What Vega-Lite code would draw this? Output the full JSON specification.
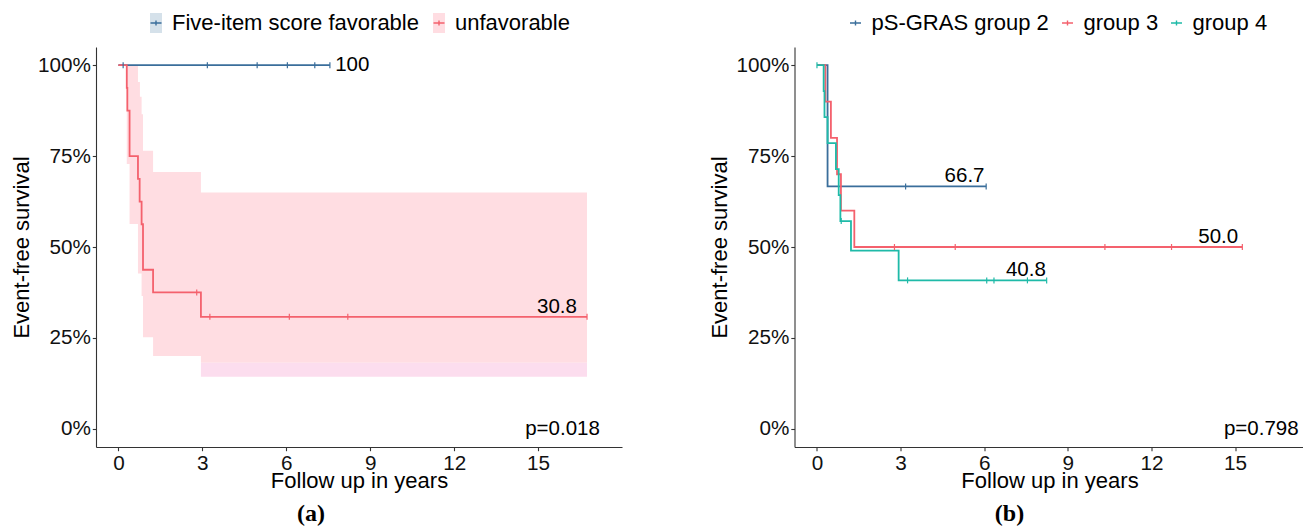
{
  "$schema": "https://vega.github.io/schema/vega-lite/v6.json",
  "background": "white",
  "padding": {"left": 10, "top": 12, "right": 0, "bottom": 0},
  "bounds": "flush",
  "spacing": 172.5,
  "resolve": {
    "scale": {"color": "independent", "fill": "independent", "stroke": "independent", "x": "independent", "y": "independent"},
    "legend": {"color": "independent", "fill": "independent", "stroke": "independent"}
  },
  "config": {
    "view": {"stroke": null},
    "font": "Liberation Sans",
    "axis": {
      "grid": false,
      "domainColor": "#333333",
      "tickColor": "#333333",
      "domainWidth": 1.1,
      "tickWidth": 1.1,
      "tickSize": 3.7,
      "labelFont": "Liberation Sans",
      "labelFontSize": 20.7,
      "labelColor": "#111111",
      "titleFont": "Liberation Sans",
      "titleFontSize": 22,
      "titleFontWeight": "normal",
      "titleColor": "#000000"
    },
    "axisX": {"labelPadding": 3, "titlePadding": -3, "labelFlush": false},
    "axisY": {"labelPadding": 2, "titlePadding": 4},
    "legend": {
      "title": null,
      "orient": "none",
      "direction": "horizontal",
      "padding": 0,
      "symbolSize": 121,
      "symbolStrokeWidth": 1.4,
      "labelFont": "Liberation Sans",
      "labelFontSize": 22,
      "labelColor": "#000000",
      "labelOffset": 5,
      "columnPadding": 7,
      "labelLimit": 400
    }
  },
  "datasets": {
    "kmA": [
      {"group": "Five-item score favorable", "t": 0, "s": 100},
      {"group": "Five-item score favorable", "t": 7.56, "s": 100},
      {"group": "unfavorable", "t": 0, "s": 100},
      {"group": "unfavorable", "t": 0.30, "s": 93.75},
      {"group": "unfavorable", "t": 0.32, "s": 87.5},
      {"group": "unfavorable", "t": 0.40, "s": 75},
      {"group": "unfavorable", "t": 0.70, "s": 68.75},
      {"group": "unfavorable", "t": 0.76, "s": 62.5},
      {"group": "unfavorable", "t": 0.83, "s": 56.25},
      {"group": "unfavorable", "t": 0.88, "s": 43.75},
      {"group": "unfavorable", "t": 1.24, "s": 37.5},
      {"group": "unfavorable", "t": 2.95, "s": 30.8},
      {"group": "unfavorable", "t": 16.75, "s": 30.8}
    ],
    "censA": [
      {"group": "Five-item score favorable", "t": 0.17, "s": 100},
      {"group": "Five-item score favorable", "t": 3.18, "s": 100},
      {"group": "Five-item score favorable", "t": 4.96, "s": 100},
      {"group": "Five-item score favorable", "t": 6.04, "s": 100},
      {"group": "Five-item score favorable", "t": 7.02, "s": 100},
      {"group": "Five-item score favorable", "t": 7.56, "s": 100},
      {"group": "unfavorable", "t": 2.80, "s": 37.5},
      {"group": "unfavorable", "t": 3.27, "s": 30.8},
      {"group": "unfavorable", "t": 6.11, "s": 30.8},
      {"group": "unfavorable", "t": 8.2, "s": 30.8},
      {"group": "unfavorable", "t": 16.75, "s": 30.8}
    ],
    "bandA": [
      {"group": "unfavorable", "t": 0.30, "lo": 72.8, "hi": 100},
      {"group": "unfavorable", "t": 0.40, "lo": 56.3, "hi": 100},
      {"group": "unfavorable", "t": 0.70, "lo": 42.7, "hi": 95.4},
      {"group": "unfavorable", "t": 0.77, "lo": 42.7, "hi": 91.3},
      {"group": "unfavorable", "t": 0.83, "lo": 36.5, "hi": 86.5},
      {"group": "unfavorable", "t": 0.88, "lo": 25.2, "hi": 76.5},
      {"group": "unfavorable", "t": 1.24, "lo": 20.0, "hi": 70.6},
      {"group": "unfavorable", "t": 2.95, "lo": 18.2, "hi": 65.0},
      {"group": "unfavorable", "t": 16.75, "lo": 18.2, "hi": 65.0}
    ],
    "bandA2": [
      {"t": 2.95, "lo": 14.3, "hi": 18.2},
      {"t": 16.75, "lo": 14.3, "hi": 18.2}
    ],
    "labA": [{"t": 7.75, "s": 100, "text": "100"}],
    "endA": [{"t": 16.39, "s": 30.8, "text": "30.8"}],
    "pA": [{"t": 17.21, "s": 0, "text": "p=0.018"}],
    "kmB": [
      {"group": "pS-GRAS group 2", "t": 0, "s": 100},
      {"group": "pS-GRAS group 2", "t": 0.38, "s": 66.67},
      {"group": "pS-GRAS group 2", "t": 6.07, "s": 66.67},
      {"group": "group 3", "t": 0, "s": 100},
      {"group": "group 3", "t": 0.30, "s": 90},
      {"group": "group 3", "t": 0.50, "s": 80},
      {"group": "group 3", "t": 0.72, "s": 70},
      {"group": "group 3", "t": 0.86, "s": 60},
      {"group": "group 3", "t": 1.34, "s": 50},
      {"group": "group 3", "t": 15.26, "s": 50},
      {"group": "group 4", "t": 0, "s": 100},
      {"group": "group 4", "t": 0.24, "s": 92.86},
      {"group": "group 4", "t": 0.27, "s": 85.71},
      {"group": "group 4", "t": 0.38, "s": 78.57},
      {"group": "group 4", "t": 0.68, "s": 71.43},
      {"group": "group 4", "t": 0.78, "s": 64.29},
      {"group": "group 4", "t": 0.84, "s": 57.14},
      {"group": "group 4", "t": 1.22, "s": 48.98},
      {"group": "group 4", "t": 2.93, "s": 40.82},
      {"group": "group 4", "t": 8.24, "s": 40.82}
    ],
    "censB": [
      {"group": "pS-GRAS group 2", "t": 3.18, "s": 66.67},
      {"group": "pS-GRAS group 2", "t": 6.07, "s": 66.67},
      {"group": "group 3", "t": 2.78, "s": 50},
      {"group": "group 3", "t": 4.96, "s": 50},
      {"group": "group 3", "t": 10.33, "s": 50},
      {"group": "group 3", "t": 12.72, "s": 50},
      {"group": "group 3", "t": 15.26, "s": 50},
      {"group": "group 4", "t": 0.0, "s": 100},
      {"group": "group 4", "t": 0.87, "s": 57.14},
      {"group": "group 4", "t": 3.25, "s": 40.82},
      {"group": "group 4", "t": 6.09, "s": 40.82},
      {"group": "group 4", "t": 6.35, "s": 40.82},
      {"group": "group 4", "t": 7.55, "s": 40.82},
      {"group": "group 4", "t": 8.24, "s": 40.82}
    ],
    "endB": [
      {"t": 6.01, "s": 66.67, "text": "66.7"},
      {"t": 15.11, "s": 50, "text": "50.0"},
      {"t": 8.21, "s": 40.82, "text": "40.8"}
    ],
    "pB": [{"t": 17.28, "s": 0, "text": "p=0.798"}]
  },
  "hconcat": [
    {
      "width": 526,
      "height": 400,
      "title": {"text": "(a)", "orient": "bottom", "anchor": "middle", "frame": "group", "dx": -48, "offset": 11, "font": "Liberation Serif", "fontSize": 24, "fontWeight": "bold", "color": "#000000"},
      "layer": [
        {
          "data": {"name": "bandA"},
          "mark": {"type": "area", "interpolate": "step-after", "opacity": 1},
          "encoding": {
            "x": {"field": "t", "type": "quantitative", "scale": {"domain": [-0.8, 18], "nice": false, "zero": false},
                  "axis": {"values": [0, 3, 6, 9, 12, 15], "title": "Follow up in years"}},
            "y": {"field": "lo", "type": "quantitative", "scale": {"domain": [-5, 105], "nice": false, "zero": false},
                  "axis": {"values": [0, 25, 50, 75, 100], "labelExpr": "datum.value + '%'", "title": "Event-free survival"}},
            "y2": {"field": "hi"},
            "fill": {"field": "group", "type": "nominal",
                     "scale": {"domain": ["Five-item score favorable", "unfavorable", "zz"], "range": ["#D5E1EA", "#FFDDE2", "#FFFFFF"]},
                     "legend": {"legendX": 49, "legendY": -35, "values": ["Five-item score favorable", "unfavorable"],
                                "labelOpacity": 0, "columnPadding": 9, "symbolType": "M-0.6,-1H0.6V1H-0.6Z", "symbolSize": 400, "symbolStrokeWidth": 0,
                                "encode": {"symbols": {"update": {"shape": {"value": "M-0.6,-1H0.6V1H-0.6Z"}, "strokeWidth": {"value": 0}, "opacity": {"value": 1}}}}}}
          }
        },
        {
          "data": {"name": "bandA2"},
          "mark": {"type": "area", "interpolate": "step-after", "color": "#FCDDEE", "opacity": 1},
          "encoding": {
            "x": {"field": "t", "type": "quantitative"},
            "y": {"field": "lo", "type": "quantitative"},
            "y2": {"field": "hi"}
          }
        },
        {
          "data": {"name": "kmA"},
          "mark": {"type": "line", "interpolate": "step-after", "strokeWidth": 1.8},
          "encoding": {
            "x": {"field": "t", "type": "quantitative"},
            "y": {"field": "s", "type": "quantitative"},
            "stroke": {"field": "group", "type": "nominal",
                      "scale": {"domain": ["Five-item score favorable", "unfavorable"], "range": ["#3A6E9B", "#F4616D"]},
                      "legend": {"legendX": 49, "legendY": -35, "columnPadding": 9,
                                 "encode": {"symbols": {"update": {"shape": {"value": "M-1,0H1M0,-0.45V0.45"}, "strokeWidth": {"value": 1.4}, "fill": {"value": "transparent"}}}}}},
            "detail": {"field": "group"}
          }
        },
        {
          "data": {"name": "censA"},
          "mark": {"type": "point", "shape": "M0,-1V1", "size": 36, "filled": false, "strokeWidth": 1.2, "opacity": 1},
          "encoding": {
            "x": {"field": "t", "type": "quantitative"},
            "y": {"field": "s", "type": "quantitative"},
            "stroke": {"field": "group", "type": "nominal"}
          }
        },
        {
          "data": {"name": "labA"},
          "mark": {"type": "text", "align": "left", "baseline": "middle", "dx": 0, "fontSize": 20.5, "font": "Liberation Sans", "color": "#000000"},
          "encoding": {
            "x": {"field": "t", "type": "quantitative"},
            "y": {"field": "s", "type": "quantitative"},
            "text": {"field": "text"}
          }
        },
        {
          "data": {"name": "endA"},
          "mark": {"type": "text", "align": "right", "baseline": "alphabetic", "dy": -4, "fontSize": 20.5, "font": "Liberation Sans", "color": "#000000"},
          "encoding": {
            "x": {"field": "t", "type": "quantitative"},
            "y": {"field": "s", "type": "quantitative"},
            "text": {"field": "text"}
          }
        },
        {
          "data": {"name": "pA"},
          "mark": {"type": "text", "align": "right", "baseline": "middle", "fontSize": 20.5, "font": "Liberation Sans", "color": "#000000"},
          "encoding": {
            "x": {"field": "t", "type": "quantitative"},
            "y": {"field": "s", "type": "quantitative"},
            "text": {"field": "text"}
          }
        }
      ]
    },
    {
      "width": 510,
      "height": 400,
      "title": {"text": "(b)", "orient": "bottom", "anchor": "middle", "frame": "group", "dx": -40, "offset": 11, "font": "Liberation Serif", "fontSize": 24, "fontWeight": "bold", "color": "#000000"},
      "layer": [
        {
          "data": {"name": "kmB"},
          "mark": {"type": "line", "interpolate": "step-after", "strokeWidth": 1.8},
          "encoding": {
            "x": {"field": "t", "type": "quantitative", "scale": {"domain": [-0.806, 17.49], "nice": false, "zero": false},
                  "axis": {"values": [0, 3, 6, 9, 12, 15], "title": "Follow up in years"}},
            "y": {"field": "s", "type": "quantitative", "scale": {"domain": [-5, 105], "nice": false, "zero": false},
                  "axis": {"values": [0, 25, 50, 75, 100], "labelExpr": "datum.value + '%'", "title": "Event-free survival"}},
            "stroke": {"field": "group", "type": "nominal",
                      "scale": {"domain": ["pS-GRAS group 2", "group 3", "group 4"], "range": ["#3A6E9B", "#F4616D", "#1FBAA8"]},
                      "legend": {"legendX": 50, "legendY": -35,
                                 "encode": {"symbols": {"update": {"shape": {"value": "M-1,0H1M0,-0.45V0.45"}, "strokeWidth": {"value": 1.4}, "fill": {"value": "transparent"}}}}}},
            "detail": {"field": "group"}
          }
        },
        {
          "data": {"name": "censB"},
          "mark": {"type": "point", "shape": "M0,-1V1", "size": 36, "filled": false, "strokeWidth": 1.2, "opacity": 1},
          "encoding": {
            "x": {"field": "t", "type": "quantitative"},
            "y": {"field": "s", "type": "quantitative"},
            "stroke": {"field": "group", "type": "nominal"}
          }
        },
        {
          "data": {"name": "endB"},
          "mark": {"type": "text", "align": "right", "baseline": "alphabetic", "dy": -4, "fontSize": 20.5, "font": "Liberation Sans", "color": "#000000"},
          "encoding": {
            "x": {"field": "t", "type": "quantitative"},
            "y": {"field": "s", "type": "quantitative"},
            "text": {"field": "text"}
          }
        },
        {
          "data": {"name": "pB"},
          "mark": {"type": "text", "align": "right", "baseline": "middle", "fontSize": 20.5, "font": "Liberation Sans", "color": "#000000"},
          "encoding": {
            "x": {"field": "t", "type": "quantitative"},
            "y": {"field": "s", "type": "quantitative"},
            "text": {"field": "text"}
          }
        }
      ]
    }
  ]
}
